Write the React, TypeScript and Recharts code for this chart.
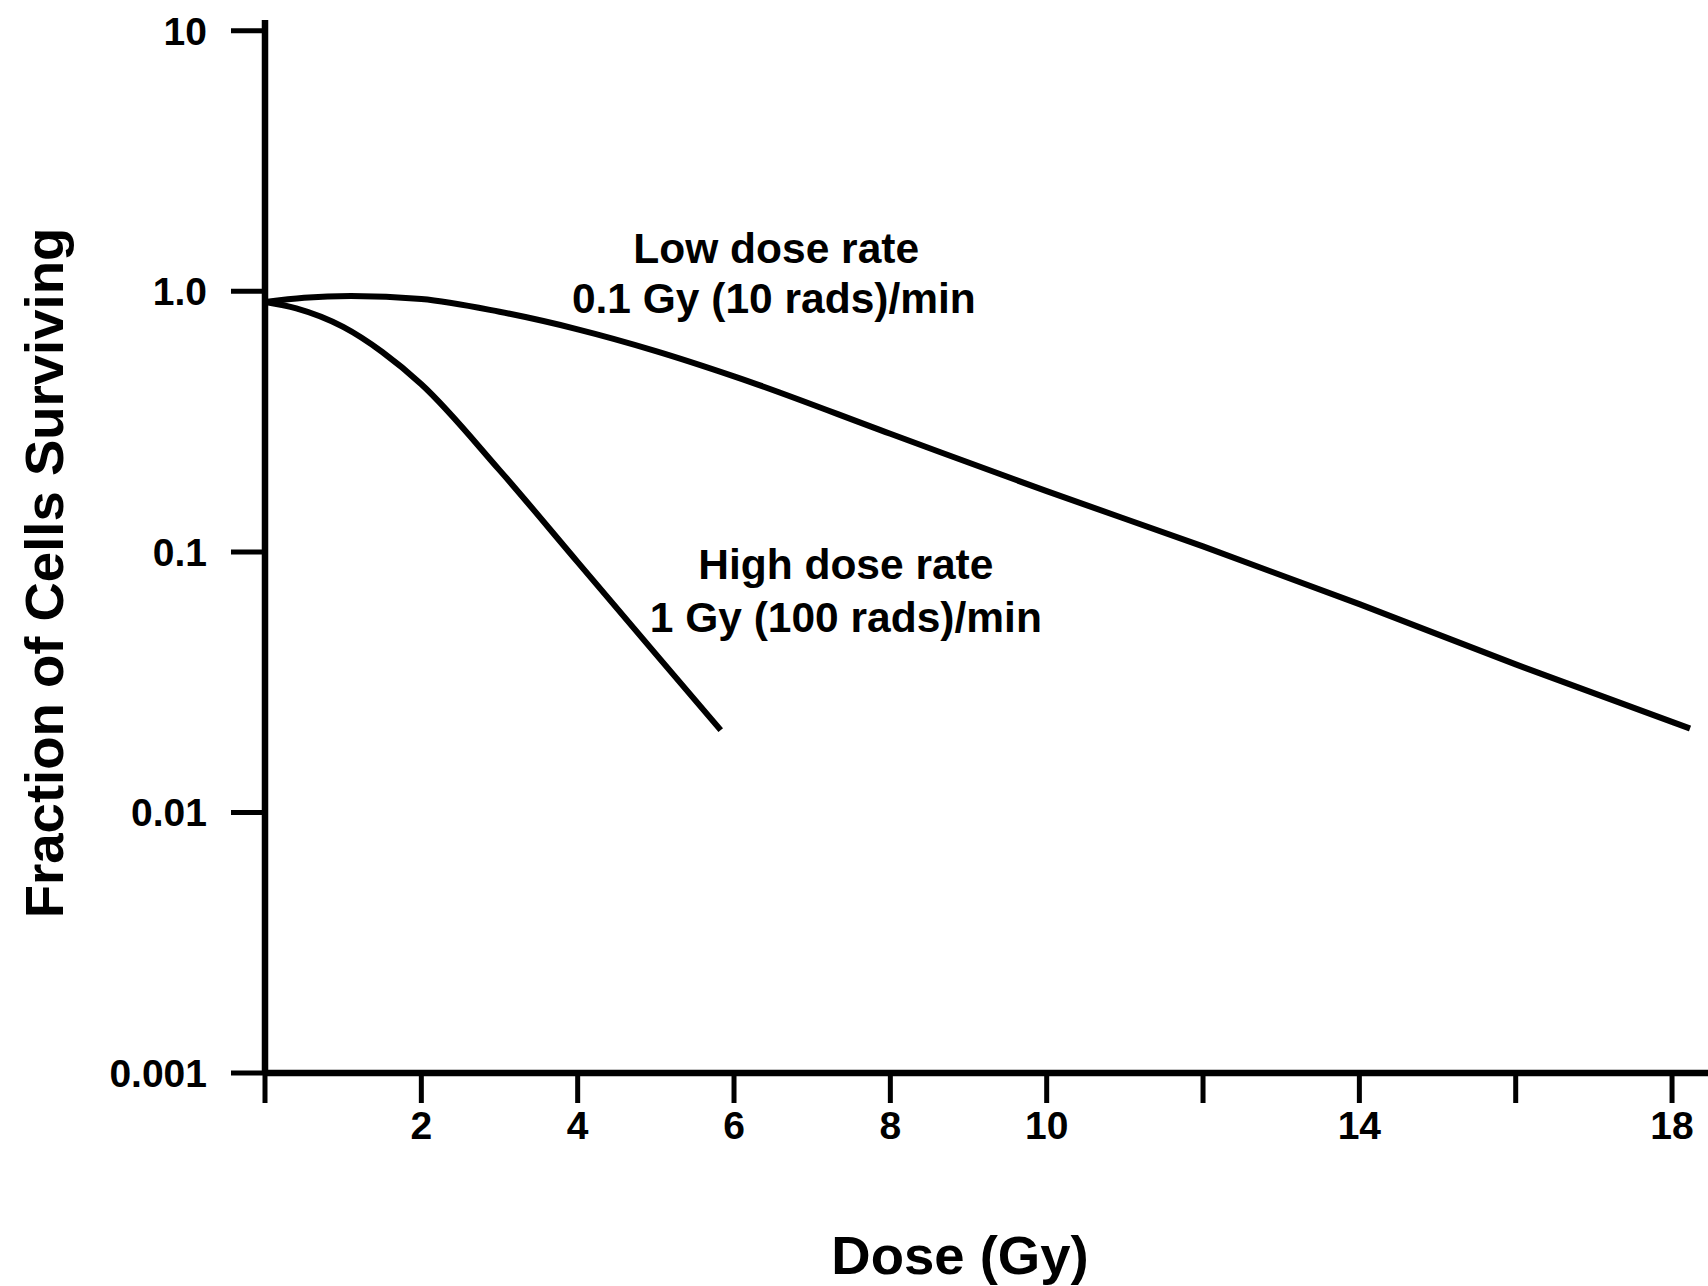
import React from 'react';
import { LineChart, Line, XAxis, YAxis, ReferenceDot, Label } from 'recharts';

// Dose (Gy) and surviving fraction
const lowDoseRateDose = [0, 0.5, 1.1, 2, 3, 4, 5, 6, 8, 10, 12, 14, 16, 18.23];
const lowDoseRateSurvival = [0.91, 0.945, 0.96, 0.935, 0.835, 0.715, 0.59, 0.472, 0.284, 0.171, 0.105, 0.063, 0.037, 0.021];

const highDoseRateDose = [0, 0.4, 1, 1.5, 2, 3, 4, 5, 5.83];
const highDoseRateSurvival = [0.91, 0.86, 0.73, 0.585, 0.44, 0.206, 0.0914, 0.0405, 0.0207];

const xTicks = [0, 2, 4, 6, 8, 10, 12, 14, 16, 18];
const xTickLabels = ['', '2', '4', '6', '8', '10', '', '14', '', '18'];
const yTicks = [0.001, 0.01, 0.1, 1, 10];
const yTickLabels = ['0.001', '0.01', '0.1', '1.0', '10'];

const lowData = lowDoseRateDose.map((d, i) => ({ dose: d, survival: lowDoseRateSurvival[i] }));
const highData = highDoseRateDose.map((d, i) => ({ dose: d, survival: highDoseRateSurvival[i] }));

const FONT = '"Liberation Sans", Arial, Helvetica, sans-serif';
const tickStyle = { fill: '#000', fontSize: 39, fontWeight: 700, fontFamily: FONT };
const annStyle = { fill: '#000', fontSize: 42.5, fontWeight: 700, fontFamily: FONT };
const titleStyle = { fill: '#000', fontSize: 54.5, fontWeight: 700, fontFamily: FONT };

const xFmt = (v: number) => {
  const i = xTicks.indexOf(v);
  return i >= 0 ? xTickLabels[i] : '';
};
const yFmt = (v: number) => {
  const i = yTicks.findIndex((t) => Math.abs(t - v) < t * 1e-6);
  return i >= 0 ? yTickLabels[i] : '';
};

export default function App() {
  return (
    <div style={{ position: 'absolute', left: 0, top: 0, background: '#fff' }}>
      <LineChart width={1708} height={1286} margin={{ top: 20, right: 0, left: 0, bottom: 0 }}>
        <XAxis
          type="number"
          dataKey="dose"
          domain={[0, 18.46]}
          allowDataOverflow
          ticks={xTicks}
          tickFormatter={xFmt}
          height={213}
          tickSize={30}
          tickMargin={8}
          axisLine={{ stroke: '#000', strokeWidth: 6.5 }}
          tickLine={{ stroke: '#000', strokeWidth: 5 }}
          tick={tickStyle}
        >
          <Label
            content={() => (
              <text x={960} y={1255} textAnchor="middle" dominantBaseline="central" style={titleStyle}>
                Dose (Gy)
              </text>
            )}
          />
        </XAxis>
        <YAxis
          type="number"
          dataKey="survival"
          scale="log"
          domain={[0.001, 11]}
          allowDataOverflow
          ticks={yTicks}
          tickFormatter={yFmt}
          width={265}
          tickSize={34}
          tickMargin={24}
          axisLine={{ stroke: '#000', strokeWidth: 6.5 }}
          tickLine={{ stroke: '#000', strokeWidth: 5 }}
          tick={tickStyle}
        >
          <Label
            content={() => (
              <text x={44} y={573} textAnchor="middle" dominantBaseline="central"
                transform="rotate(-90 44 573)" style={titleStyle}>
                Fraction of Cells Surviving
              </text>
            )}
          />
        </YAxis>
        <Line data={lowData} dataKey="survival" type="monotone" stroke="#000" strokeWidth={6}
          dot={false} activeDot={false} isAnimationActive={false} />
        <Line data={highData} dataKey="survival" type="monotone" stroke="#000" strokeWidth={6}
          dot={false} activeDot={false} isAnimationActive={false} />
        <ReferenceDot x={6.54} y={1.464} r={1} fill="none" stroke="none"
          label={{ value: 'Low dose rate', position: 'center', ...annStyle }} />
        <ReferenceDot x={6.51} y={0.941} r={1} fill="none" stroke="none"
          label={{ value: '0.1 Gy (10 rads)/min', position: 'center', ...annStyle }} />
        <ReferenceDot x={7.43} y={0.0898} r={1} fill="none" stroke="none"
          label={{ value: 'High dose rate', position: 'center', ...annStyle }} />
        <ReferenceDot x={7.43} y={0.0561} r={1} fill="none" stroke="none"
          label={{ value: '1 Gy (100 rads)/min', position: 'center', ...annStyle }} />
      </LineChart>
    </div>
  );
}
